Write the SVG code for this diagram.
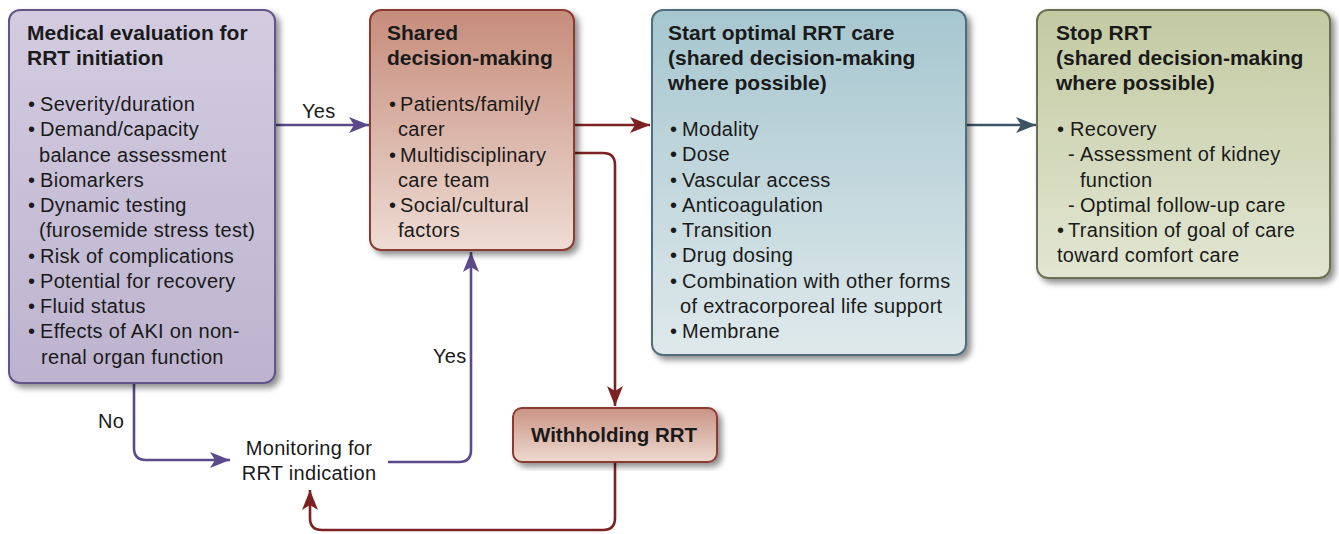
<svg xmlns="http://www.w3.org/2000/svg" width="1339" height="534" viewBox="0 0 1339 534">
<defs>
<style>
.t{font-family:"Liberation Sans",Arial,sans-serif;font-size:20px;fill:#1a1a1a;letter-spacing:0.3px}
.h{font-family:"Liberation Sans",Arial,sans-serif;font-size:21px;font-weight:bold;fill:#1a1a1a}
.c{fill:none;stroke-width:2.6;stroke-linejoin:round}
.pu{stroke:#5a4a8a}
.rd{stroke:#7d2222}
.bl{stroke:#3c5566}
</style>
<filter id="sh" x="-10%" y="-10%" width="125%" height="125%">
<feGaussianBlur in="SourceAlpha" stdDeviation="3"/>
<feOffset dx="4" dy="4" result="b"/>
<feComponentTransfer><feFuncA type="linear" slope="0.45"/></feComponentTransfer>
<feMerge><feMergeNode/><feMergeNode in="SourceGraphic"/></feMerge>
</filter>
<linearGradient id="g1" x1="0" y1="0" x2="0" y2="1"><stop offset="0" stop-color="#d3cce0"/><stop offset="1" stop-color="#bdb3cf"/></linearGradient>
<linearGradient id="g2" x1="0" y1="0" x2="0" y2="1"><stop offset="0" stop-color="#c68c7b"/><stop offset="1" stop-color="#eedcd4"/></linearGradient>
<linearGradient id="g3" x1="0" y1="0" x2="0" y2="1"><stop offset="0" stop-color="#a6c6cf"/><stop offset="1" stop-color="#dfe9eb"/></linearGradient>
<linearGradient id="g4" x1="0" y1="0" x2="0" y2="1"><stop offset="0" stop-color="#c3caa2"/><stop offset="1" stop-color="#e2e6d2"/></linearGradient>
<linearGradient id="g5" x1="0" y1="0" x2="0" y2="1"><stop offset="0" stop-color="#c99484"/><stop offset="1" stop-color="#eed9d0"/></linearGradient>
<marker id="ap" markerUnits="userSpaceOnUse" markerWidth="22" markerHeight="18" refX="20" refY="9" orient="auto"><path d="M0,1 L20,9 L0,17 L5,9 z" fill="#5a4a8a"/></marker>
<marker id="ar" markerUnits="userSpaceOnUse" markerWidth="22" markerHeight="18" refX="20" refY="9" orient="auto"><path d="M0,1 L20,9 L0,17 L5,9 z" fill="#7d2222"/></marker>
<marker id="ab" markerUnits="userSpaceOnUse" markerWidth="22" markerHeight="18" refX="20" refY="9" orient="auto"><path d="M0,1 L20,9 L0,17 L5,9 z" fill="#3c5566"/></marker>
</defs>
<rect width="1339" height="534" fill="#ffffff"/>

<g id="connectors">
<path class="c pu" d="M275 125 H369" marker-end="url(#ap)"/>
<path class="c pu" d="M134 383 V448 Q134 460 146 460 H230" marker-end="url(#ap)"/>
<path class="c pu" d="M388 462 H459 Q471 462 471 450 V252" marker-end="url(#ap)"/>
<path class="c rd" d="M574 125 H650" marker-end="url(#ar)"/>
<path class="c rd" d="M574 153 H603 Q615 153 615 165 V406" marker-end="url(#ar)"/>
<path class="c rd" d="M615 462 V518 Q615 530 603 530 H322 Q310 530 310 518 V490" marker-end="url(#ar)"/>
<path class="c bl" d="M966 125 H1036" marker-end="url(#ab)"/>
<text class="t" x="302" y="118">Yes</text>
<text class="t" x="98" y="428">No</text>
<text class="t" x="433" y="363">Yes</text>
</g>

<g id="medical-evaluation">
<rect x="9" y="10" width="266" height="373" rx="11" fill="url(#g1)" stroke="#62548a" stroke-width="2" filter="url(#sh)"/>
<text class="h" x="27" y="40">Medical evaluation for</text>
<text class="h" x="27" y="65">RRT initiation</text>
<g class="t">
<text x="28" y="111">•</text><text x="40" y="111">Severity/duration</text>
<text x="28" y="136">•</text><text x="40" y="136">Demand/capacity</text>
<text x="39" y="162">balance assessment</text>
<text x="28" y="187">•</text><text x="40" y="187">Biomarkers</text>
<text x="28" y="212">•</text><text x="40" y="212">Dynamic testing</text>
<text x="39" y="237">(furosemide stress test)</text>
<text x="28" y="263">•</text><text x="40" y="263">Risk of complications</text>
<text x="28" y="288">•</text><text x="40" y="288">Potential for recovery</text>
<text x="28" y="313">•</text><text x="40" y="313">Fluid status</text>
<text x="28" y="338">•</text><text x="40" y="338">Effects of AKI on non-</text>
<text x="41" y="364">renal organ function</text>
</g>
</g>

<g id="shared-decision">
<rect x="370" y="10" width="204" height="240" rx="11" fill="url(#g2)" stroke="#8a3a30" stroke-width="2" filter="url(#sh)"/>
<text class="h" x="387" y="40">Shared</text>
<text class="h" x="387" y="65">decision-making</text>
<g class="t">
<text x="389" y="111">•</text><text x="400" y="111">Patients/family/</text>
<text x="398" y="136">carer</text>
<text x="389" y="162">•</text><text x="400" y="162">Multidisciplinary</text>
<text x="398" y="187">care team</text>
<text x="389" y="212">•</text><text x="400" y="212">Social/cultural</text>
<text x="398" y="237">factors</text>
</g>
</g>

<g id="start-rrt">
<rect x="652" y="10" width="314" height="345" rx="11" fill="url(#g3)" stroke="#4f6e7a" stroke-width="2" filter="url(#sh)"/>
<text class="h" x="668" y="40">Start optimal RRT care</text>
<text class="h" x="668" y="65">(shared decision-making</text>
<text class="h" x="668" y="90">where possible)</text>
<g class="t">
<text x="670" y="136">•</text><text x="682" y="136">Modality</text>
<text x="670" y="161">•</text><text x="682" y="161">Dose</text>
<text x="670" y="187">•</text><text x="682" y="187">Vascular access</text>
<text x="670" y="212">•</text><text x="682" y="212">Anticoagulation</text>
<text x="670" y="237">•</text><text x="682" y="237">Transition</text>
<text x="670" y="262">•</text><text x="682" y="262">Drug dosing</text>
<text x="670" y="288">•</text><text x="682" y="288">Combination with other forms</text>
<text x="680" y="313">of extracorporeal life support</text>
<text x="670" y="338">•</text><text x="682" y="338">Membrane</text>
</g>
</g>

<g id="stop-rrt">
<rect x="1037" y="10" width="293" height="268" rx="11" fill="url(#g4)" stroke="#6b7052" stroke-width="2" filter="url(#sh)"/>
<text class="h" x="1056" y="40">Stop RRT</text>
<text class="h" x="1056" y="65">(shared decision-making</text>
<text class="h" x="1056" y="90">where possible)</text>
<g class="t">
<text x="1057" y="136">•</text><text x="1070" y="136">Recovery</text>
<text x="1068" y="161">-</text><text x="1080" y="161">Assessment of kidney</text>
<text x="1080" y="187">function</text>
<text x="1068" y="212">-</text><text x="1080" y="212">Optimal follow-up care</text>
<text x="1057" y="237">•</text><text x="1068" y="237">Transition of goal of care</text>
<text x="1057" y="262">toward comfort care</text>
</g>
</g>

<g id="withholding-rrt">
<rect x="513" y="408" width="204" height="54" rx="9" fill="url(#g5)" stroke="#8a3a30" stroke-width="2" filter="url(#sh)"/>
<text class="h" x="614" y="442" text-anchor="middle" style="font-size:20.5px">Withholding RRT</text>
</g>

<g id="monitoring">
<text class="t" x="309" y="455" text-anchor="middle">Monitoring for</text>
<text class="t" x="309" y="480" text-anchor="middle">RRT indication</text>
</g>
</svg>
